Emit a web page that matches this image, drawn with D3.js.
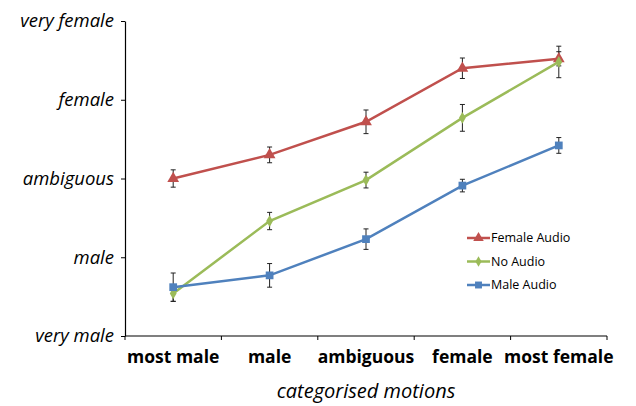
<!DOCTYPE html>
<html>
<head>
<meta charset="utf-8">
<script src="https://cdn.jsdelivr.net/npm/d3@7"></script>
<style>
  body { margin: 0; background: #fff; }
  svg text { font-family: "Open Sans", "Noto Sans", sans-serif; fill: #000; }
</style>
</head>
<body>
<svg id="chart" width="636" height="406"></svg>
<script>
// categories on the x axis
const categories = ['most male', 'male', 'ambiguous', 'female', 'most female'];
// rating scale, very male = 0 ... very female = 4
const ratingLabels = ['very male', 'male', 'ambiguous', 'female', 'very female'];

const femaleAudio    = [2.00, 2.30, 2.72, 3.40, 3.52];
const femaleAudioErr = [0.11, 0.10, 0.15, 0.13, 0.09];
const noAudio        = [0.54, 1.46, 1.98, 2.77, 3.48];
const noAudioErr     = [0.10, 0.11, 0.10, 0.17, 0.20];
const maleAudio      = [0.62, 0.77, 1.23, 1.91, 2.42];
const maleAudioErr   = [0.18, 0.15, 0.13, 0.08, 0.10];

const series = [
    { name: 'Female Audio', values: femaleAudio, err: femaleAudioErr, color: '#C0504D', symbol: d3.symbolTriangle, size: 60 },
    { name: 'No Audio',     values: noAudio,     err: noAudioErr,     color: '#9BBB59', symbol: d3.symbolDiamond,  size: 40 },
    { name: 'Male Audio',   values: maleAudio,   err: maleAudioErr,   color: '#4F81BD', symbol: d3.symbolSquare,   size: 60 }
];

const svg = d3.select('#chart');
const margin = { left: 125, right: 29, top: 21, bottom: 70 };
const width = 636, height = 406;

const x = d3.scaleBand().domain(categories).range([margin.left, width - margin.right]);
const y = d3.scaleLinear().domain([0, 4]).range([height - margin.bottom, margin.top]);

// y axis
const yAxis = svg.append('g')
    .attr('transform', `translate(${margin.left},0)`)
    .call(d3.axisLeft(y).tickValues([0, 1, 2, 3, 4]).tickSize(4).tickSizeOuter(0)
        .tickFormat(d => ratingLabels[d]));
yAxis.select('.domain').attr('stroke', '#000').attr('stroke-width', 1.2);
yAxis.selectAll('.tick line').attr('stroke', '#000');
yAxis.selectAll('.tick text')
    .attr('x', -11)
    .style('font-size', '18.5px')
    .style('font-style', 'italic');

// x axis with ticks at band boundaries
const xAxisY = y(0);
const xg = svg.append('g').attr('transform', `translate(0,${xAxisY})`);
xg.append('line')
    .attr('x1', margin.left).attr('x2', width - margin.right)
    .attr('stroke', '#000').attr('stroke-width', 1.2);
const bounds = categories.map(c => x(c)).concat([x.range()[1]]);
xg.selectAll('line.tk').data(bounds).join('line')
    .attr('class', 'tk')
    .attr('x1', d => d).attr('x2', d => d)
    .attr('y1', 0).attr('y2', 4)
    .attr('stroke', '#000');
xg.selectAll('text').data(categories).join('text')
    .attr('x', d => x(d) + x.bandwidth() / 2)
    .attr('y', 27)
    .attr('text-anchor', 'middle')
    .style('font-size', '17.5px')
    .style('font-weight', 'bold')
    .text(d => d);

svg.append('text')
    .attr('x', x.range()[0] + (x.range()[1] - x.range()[0]) / 2)
    .attr('y', 398)
    .attr('text-anchor', 'middle')
    .style('font-size', '20px')
    .style('font-style', 'italic')
    .attr('fill', '#222')
    .text('categorised motions');

const cx = (d, i) => x(categories[i]) + x.bandwidth() / 2;
const line = d3.line().x(cx).y(d => y(d));

// lines
series.forEach(s => {
    svg.append('path')
        .datum(s.values)
        .attr('d', line)
        .attr('fill', 'none')
        .attr('stroke', s.color)
        .attr('stroke-width', 2.5);
});

// error bars
series.forEach(s => {
    const g = svg.append('g');
    s.values.forEach((v, i) => {
        const px = cx(v, i);
        const y0 = y(v - s.err[i]), y1 = y(v + s.err[i]);
        g.append('line').attr('x1', px).attr('x2', px).attr('y1', y0).attr('y2', y1)
            .attr('stroke', '#222').attr('stroke-width', 1);
        [y0, y1].forEach(yy => {
            g.append('line').attr('x1', px - 2.5).attr('x2', px + 2.5).attr('y1', yy).attr('y2', yy)
                .attr('stroke', '#222').attr('stroke-width', 1);
        });
    });
});

// markers
series.forEach(s => {
    svg.append('g').selectAll('path').data(s.values).join('path')
        .attr('d', d3.symbol().type(s.symbol).size(s.size))
        .attr('transform', (d, i) => `translate(${cx(d, i)},${y(d)})`)
        .attr('fill', s.color);
});

// legend
const legend = svg.append('g').attr('transform', 'translate(467,238)');
series.forEach((s, i) => {
    const g = legend.append('g').attr('transform', `translate(0,${i * 23.5})`);
    g.append('line').attr('x1', 0).attr('x2', 23).attr('stroke', s.color).attr('stroke-width', 2.5);
    g.append('path')
        .attr('d', d3.symbol().type(s.symbol).size(s.size * 0.8))
        .attr('transform', 'translate(11.5,0)')
        .attr('fill', s.color);
    g.append('text').attr('x', 24).attr('dy', '0.35em')
        .style('font-size', '12.5px')
        .text(s.name);
});
</script>
</body>
</html>
